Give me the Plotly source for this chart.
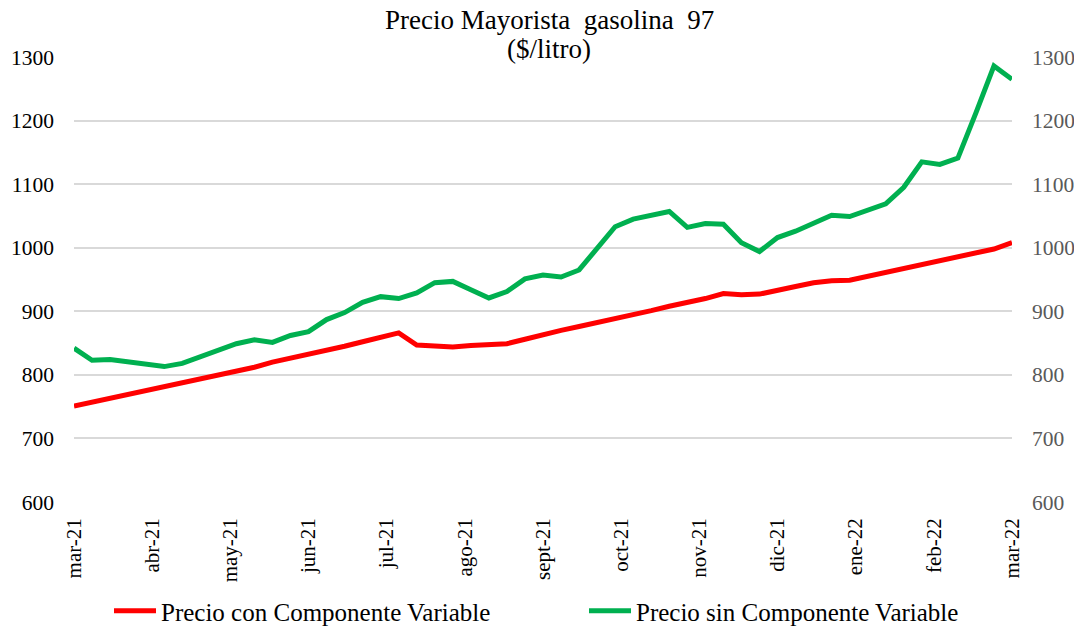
import plotly.graph_objects as go

weeks = list(range(53))
con_cv = [751, 757, 764, 770, 776, 782, 788, 794, 800, 806, 812, 820, 826, 832, 838, 845, 852,
          860, 866, 847, 846, 844, 846, 848, 849, 856, 864, 870, 876, 882, 888, 894, 901, 908,
          914, 920, 928, 926, 927, 934, 939, 945, 948, 949, 955, 961, 966, 972, 978, 985, 991,
          998, 1008]
sin_cv = [842, 823, 824, 820, 816, 813, 818, 828, 840, 849, 855, 851, 862, 868, 887, 898, 914,
          923, 920, 929, 945, 947, 934, 921, 931, 951, 957, 954, 965, 998, 1033, 1045, 1052, 1057,
          1032, 1038, 1037, 1008, 994, 1016, 1026, 1039, 1051, 1049, 1058, 1069, 1095, 1135, 1131,
          1141, 1212, 1286, 1265]
month_labels = ["mar-21", "abr-21", "may-21", "jun-21", "jul-21", "ago-21", "sept-21", "oct-21",
                "nov-21", "dic-21", "ene-22", "feb-22", "mar-22"]
y_ticks = [600, 700, 800, 900, 1000, 1100, 1200, 1300]
title_lines = ["Precio Mayorista\u00a0 gasolina\u00a0 97", "($/litro)"]

n_int = len(weeks) - 1
tick_pos = [i * n_int / (len(month_labels) - 1) for i in range(len(month_labels))]

FONT = "Liberation Serif"
OFF = 8  # page body margin
W, H = 1082 - OFF, 628 - OFF
L, R, T, B = 74 - OFF, 70, 57 - OFF, 126
PW, PH = W - L - R, H - T - B


def px_x(x):  # page pixel -> paper x
    return (x - OFF - L) / PW


def px_y(y):  # page pixel -> paper y
    return (H - B - (y - OFF)) / PH


def legend_at(xpage, ypage):
    return dict(orientation="h", xref="container", yref="container",
                x=(xpage - OFF) / W, xanchor="left", y=1 - (ypage - OFF) / H, yanchor="middle",
                font=dict(family=FONT, size=25, color="#000000"), itemwidth=42,
                bgcolor="rgba(0,0,0,0)")


fig = go.Figure()
fig.add_trace(go.Scatter(x=weeks, y=con_cv, mode="lines", name="Precio con Componente Variable",
                         line=dict(color="#FF0000", width=5), legend="legend"))
fig.add_trace(go.Scatter(x=weeks, y=sin_cv, mode="lines", name="Precio sin Componente Variable",
                         line=dict(color="#00B050", width=5), yaxis="y2", legend="legend2"))

fig.update_layout(
    width=W, height=H,
    paper_bgcolor="white", plot_bgcolor="white",
    margin=dict(l=L, r=R, t=T, b=B, autoexpand=False),
    font=dict(family=FONT, size=22, color="#000000"),
    xaxis=dict(range=[0, n_int], tickmode="array", tickvals=tick_pos, ticktext=month_labels,
               tickangle=-90, showgrid=False, zeroline=False, showline=False, ticks="",
               ticklabelstandoff=11, automargin=False,
               tickfont=dict(size=21, color="#000000")),
    yaxis=dict(range=[600, 1300], tickmode="array", tickvals=y_ticks, showgrid=True,
               gridcolor="#D9D9D9", gridwidth=1.5, zeroline=False, showline=False, ticks="",
               ticklabelstandoff=19, automargin=False,
               tickfont=dict(size=21.5, color="#000000")),
    yaxis2=dict(range=[600, 1300], tickmode="array", tickvals=y_ticks, overlaying="y",
                side="right", showgrid=False, zeroline=False, showline=False, ticks="",
                ticklabelstandoff=19, automargin=False,
                tickfont=dict(size=21.5, color="#595959")),
    legend=legend_at(109, 611),
    legend2=legend_at(584, 611),
    showlegend=True,
    annotations=[
        dict(text=title_lines[0], x=px_x(549), y=px_y(20), xref="paper", yref="paper",
             xanchor="center", yanchor="middle", showarrow=False, borderpad=0,
             font=dict(family=FONT, size=27, color="#000000")),
        dict(text=title_lines[1], x=px_x(549), y=px_y(49), xref="paper", yref="paper",
             xanchor="center", yanchor="middle", showarrow=False, borderpad=0,
             font=dict(family=FONT, size=27, color="#000000")),
    ],
)

fig.write_html("out.html")
